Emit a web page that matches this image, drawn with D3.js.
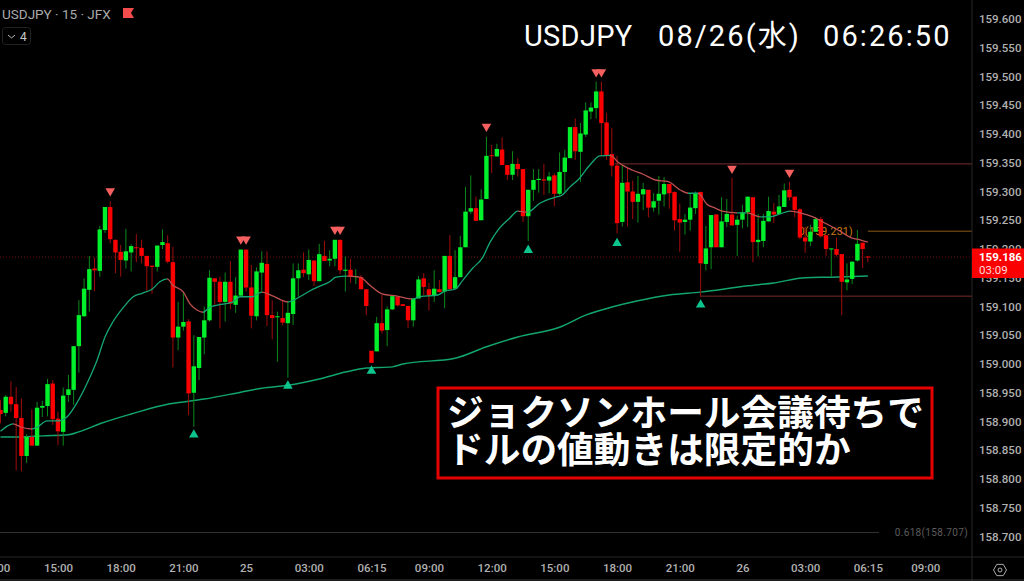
<!DOCTYPE html>
<html>
<head>
<meta charset="utf-8">
<script src="https://cdnjs.cloudflare.com/ajax/libs/d3/7.8.5/d3.min.js"></script>
<style>
  html, body { margin: 0; padding: 0; background: #000; overflow: hidden; }
  svg { display: block; }
  text { font-family: Roboto, sans-serif; }
  .axis path, .axis line { display: none; }
  .axis text { fill: #b0b0b0; font-size: 11.5px; font-weight: 500; font-family: Roboto, sans-serif; }
</style>
</head>
<body>
<div id="chart"></div>
<script>
// 15 minute bars, oldest first
const opens = [
  158.920,158.915,158.943,158.930,158.906,158.840,158.873,158.858,158.924,158.927,
  158.966,158.905,158.882,158.946,158.955,159.031,159.083,159.129,159.166,159.162,
  159.233,159.273,159.216,159.195,159.180,159.194,159.203,159.202,159.188,159.171,
  159.169,159.207,159.210,159.177,159.046,159.065,159.074,158.950,158.993,159.046,
  159.076,159.149,159.143,159.108,159.143,159.103,159.119,159.199,159.133,159.083,
  159.159,159.174,159.085,159.082,159.080,159.071,159.087,159.149,159.164,159.156,
  159.180,159.144,159.188,159.180,159.183,159.216,159.162,159.164,159.151,159.151,
  159.130,159.023,159.022,159.071,159.059,159.095,159.117,159.104,159.101,159.076,
  159.114,159.149,159.130,159.119,159.130,159.126,159.188,159.131,159.151,159.203,
  159.265,159.271,159.250,159.287,159.363,159.361,159.373,159.346,159.329,159.348,
  159.339,159.257,159.303,159.320,159.321,159.319,159.328,159.296,159.334,159.358,
  159.412,159.369,159.399,159.439,159.445,159.474,159.420,159.365,159.345,159.247,
  159.316,159.300,159.282,159.295,159.303,159.272,159.284,159.295,159.313,159.299,
  159.252,159.247,159.251,159.271,159.299,159.174,159.203,159.260,159.203,159.247,
  159.260,159.242,159.251,159.264,159.290,159.212,159.214,159.248,159.265,159.261,
  159.273,159.303,159.291,159.269,159.220,159.213,159.230,159.252,159.224,159.200,
  159.200,159.191,159.142,159.148,159.180,159.211,159.187
];
const closes = [
  158.913,158.943,158.930,158.906,158.840,158.873,158.858,158.924,158.927,158.965,
  158.904,158.883,158.945,158.956,159.031,159.085,159.131,159.165,159.163,159.234,
  159.273,159.217,159.194,159.181,159.196,159.205,159.202,159.188,159.170,159.169,
  159.206,159.212,159.178,159.046,159.065,159.073,158.949,158.996,159.047,159.076,
  159.150,159.143,159.108,159.143,159.105,159.119,159.199,159.133,159.084,159.161,
  159.176,159.085,159.080,159.083,159.072,159.089,159.149,159.163,159.158,159.181,
  159.144,159.191,159.179,159.183,159.216,159.163,159.164,159.152,159.153,159.130,
  159.101,159.002,159.071,159.058,159.095,159.118,159.102,159.101,159.076,159.114,
  159.147,159.134,159.119,159.131,159.125,159.188,159.130,159.151,159.203,159.265,
  159.271,159.249,159.286,159.362,159.362,159.374,159.346,159.329,159.348,159.339,
  159.257,159.303,159.320,159.322,159.319,159.326,159.296,159.334,159.359,159.412,
  159.370,159.401,159.441,159.446,159.474,159.419,159.363,159.345,159.245,159.315,
  159.300,159.282,159.296,159.304,159.272,159.283,159.296,159.313,159.297,159.250,
  159.246,159.251,159.272,159.297,159.175,159.201,159.259,159.203,159.248,159.261,
  159.241,159.251,159.264,159.291,159.212,159.216,159.249,159.266,159.260,159.274,
  159.302,159.290,159.268,159.220,159.213,159.230,159.252,159.222,159.200,159.201,
  159.190,159.143,159.147,159.178,159.209,159.200,159.186
];
const highs = [
  158.937,158.946,158.970,158.960,158.940,158.878,158.921,158.934,158.936,158.974,
  158.972,158.917,158.959,158.981,159.031,159.111,159.149,159.188,159.185,159.240,
  159.273,159.283,159.216,159.207,159.235,159.208,159.226,159.216,159.188,159.171,
  159.206,159.234,159.224,159.204,159.108,159.126,159.078,159.050,159.047,159.100,
  159.163,159.149,159.152,159.159,159.179,159.151,159.199,159.199,159.172,159.168,
  159.196,159.196,159.111,159.091,159.110,159.110,159.175,159.175,159.194,159.199,
  159.180,159.209,159.214,159.198,159.216,159.216,159.187,159.183,159.165,159.155,
  159.130,159.023,159.082,159.120,159.100,159.118,159.117,159.104,159.101,159.114,
  159.153,159.158,159.141,159.163,159.146,159.188,159.224,159.198,159.223,159.308,
  159.328,159.291,159.304,159.395,159.381,159.383,159.394,159.346,159.370,159.358,
  159.339,159.303,159.339,159.339,159.348,159.334,159.332,159.368,159.373,159.412,
  159.427,159.419,159.455,159.455,159.491,159.491,159.437,159.410,159.362,159.346,
  159.341,159.319,159.327,159.315,159.303,159.297,159.327,159.325,159.313,159.300,
  159.279,159.261,159.297,159.300,159.300,159.240,159.259,159.261,159.290,159.287,
  159.324,159.258,159.277,159.291,159.290,159.261,159.261,159.291,159.280,159.294,
  159.314,159.317,159.291,159.271,159.239,159.242,159.255,159.256,159.224,159.201,
  159.220,159.191,159.175,159.178,159.233,159.211,159.187
];
const lows = [
  158.897,158.909,158.917,158.815,158.813,158.828,158.858,158.858,158.908,158.909,
  158.894,158.859,158.858,158.934,158.929,158.985,159.082,159.091,159.127,159.152,
  159.228,159.210,159.158,159.152,159.166,159.161,159.177,159.175,159.126,159.122,
  159.161,159.200,159.175,158.994,159.024,159.058,158.911,158.891,158.972,159.017,
  159.074,159.103,159.062,159.074,159.095,159.089,159.117,159.126,159.062,159.076,
  159.126,159.066,159.043,159.004,159.067,158.976,159.068,159.117,159.151,159.146,
  159.136,159.144,159.179,159.170,159.170,159.156,159.126,159.141,159.139,159.130,
  159.085,159.002,159.022,159.053,159.031,159.094,159.100,159.101,159.062,159.065,
  159.114,159.120,159.093,159.108,159.125,159.097,159.129,159.131,159.151,159.203,
  159.261,159.249,159.250,159.287,159.332,159.361,159.346,159.320,159.320,159.326,
  159.247,159.214,159.284,159.298,159.294,159.297,159.274,159.294,159.300,159.358,
  159.355,159.317,159.395,159.426,159.427,159.363,159.355,159.326,159.227,159.239,
  159.239,159.252,159.246,159.268,159.255,159.265,159.260,159.274,159.270,159.232,
  159.195,159.225,159.232,159.261,159.117,159.163,159.165,159.203,159.203,159.238,
  159.241,159.188,159.236,159.238,159.177,159.187,159.203,159.248,159.245,159.261,
  159.273,159.284,159.255,159.217,159.193,159.205,159.230,159.220,159.188,159.152,
  159.187,159.085,159.128,159.139,159.178,159.167,159.177
];

// moving averages: bar number, price
const fastEma = [
  [0,158.883],[1.3,158.892],[2.4,158.896],[4,158.890],[6,158.887],[7,158.890],[8.9,158.901],[10.8,158.901],
  [12.7,158.908],[14.6,158.932],[16.6,158.967],[18.5,159.007],[20,159.047],[21.5,159.073],[23.4,159.097],[25.4,159.117],
  [27.1,159.123],[29,159.130],[30.5,159.143],[31.9,159.148],[33,159.137],[35,159.125],[36.3,159.104],[37.6,159.094],
  [38.8,159.090],[40.1,159.099],[42.6,159.104],[44.5,159.108],[45.8,159.117],[48.1,159.117],[50,159.125],[52.2,159.118],
  [55,159.108],[57.3,159.117],[59.2,159.127],[60.8,159.134],[63,159.143],[64.2,159.151],[66.3,159.153],[68.8,159.151],
  [70.7,159.137],[73,159.122],[75.9,159.118],[78.8,159.113],[80.3,159.117],[83.7,159.120],[85.1,159.127],[87,159.130],
  [88.5,159.146],[90.4,159.167],[92.2,159.184],[93.7,159.212],[95.2,159.233],[97.5,159.254],[99,159.266],[100.8,159.264],
  [103.3,159.280],[105.8,159.289],[107.5,159.294],[109,159.308],[110.5,159.320],[112.8,159.346],[114.7,159.362],[116.7,159.363],
  [118.2,159.351],[121,159.337],[123,159.330],[125.3,159.320],[127.8,159.317],[130,159.303],[131.6,159.297],[133.5,159.297],
  [135.2,159.278],[136.8,159.271],[138.1,159.266],[141,159.263],[142.9,159.263],[145.4,159.256],[147.3,159.256],[149.2,159.261],
  [151.1,159.266],[152.5,159.264],[153,159.263],[155.5,159.256],[157.4,159.247],[160.3,159.233],[163,159.219],[164.5,159.216],
  [166,159.212]
];
const slowEma = [
  [0,158.873],[4,158.873],[8,158.875],[13,158.877],[15,158.882],[19,158.896],[25,158.913],[32,158.930],
  [35,158.934],[39,158.939],[46,158.951],[50,158.958],[55,158.963],[61,158.974],[66,158.986],[70,158.993],
  [75,158.995],[77,159.000],[87,159.010],[93,159.030],[99,159.047],[107,159.064],[112,159.085],[117,159.099],
  [122,159.110],[128,159.120],[134,159.125],[143,159.136],[148,159.141],[154,159.150],[159,159.151],[166,159.153]
];

// swing markers: bar number, price the marker sits at
const sellMarks = [[21,159.301],[46,159.217],[47,159.217],[64,159.234],[65,159.234],[93,159.413],[114,159.508],[115,159.508],[140,159.340],[151,159.333]];
const buyMarks = [[37,158.877],[55,158.962],[71,158.988],[101,159.198],[118,159.210],[134,159.103]];

const priceTicks = [159.6,159.55,159.5,159.45,159.4,159.35,159.3,159.25,159.2,159.15,159.1,159.05,159,158.95,158.9,158.85,158.8,158.75,158.7];
const timeTicks = [-1,11,23,35,47,59,71,82,94,106,118,130,142,154,166,177];
const timeLabels = ["12:00","15:00","18:00","21:00","25","03:00","06:15","09:00","12:00","15:00","18:00","21:00","26","03:00","06:15","09:00"];

const lastPrice = 159.186;
const countdown = "03:09";
const resistance = 159.348;
const support = 159.118;
const fibZero = 159.231;
const fibLevel = 158.707;
const titleParts = ["USDJPY", "08/26(水)", "06:26:50"];
const headline = ["ジョクソンホール会議待ちで", "ドルの値動きは限定的か"];

const W = 1024, H = 581, plotRight = 972, plotBottom = 557;
const green = "#00f02c", red = "#fb0000";
const emaUp = "#14a673", emaDown = "#bd4f4f";

const bars = opens.map((o, i) => ({ i: i, o: o, h: highs[i], l: lows[i], c: closes[i] }));

const x = d3.scaleLinear().domain([0, 166]).range([0.5, 867.85]);
const y = d3.scaleLinear().domain([158.7, 159.6]).range([536.5, 19]);

const svg = d3.select("#chart").append("svg").attr("width", W).attr("height", H);
const defs = svg.append("defs");

defs.append("clipPath").attr("id", "plot")
  .append("rect").attr("width", plotRight).attr("height", plotBottom);

// the fast average changes colour with its direction, hard stops at each knot
const fastGrad = defs.append("linearGradient").attr("id", "fastGrad")
  .attr("gradientUnits", "userSpaceOnUse")
  .attr("x1", x(0)).attr("x2", x(166)).attr("y1", 0).attr("y2", 0);
d3.pairs(fastEma).forEach(p => {
  const colour = p[1][1] >= p[0][1] ? emaUp : emaDown;
  const a = (p[0][0]) / 166, b = (p[1][0]) / 166;
  fastGrad.append("stop").attr("offset", a).attr("stop-color", colour);
  fastGrad.append("stop").attr("offset", b).attr("stop-color", colour);
});

const plot = svg.append("g").attr("clip-path", "url(#plot)");

// level lines
plot.append("line").attr("x1", 0).attr("x2", plotRight)
  .attr("y1", y(lastPrice)).attr("y2", y(lastPrice))
  .attr("stroke", "#6e1212").attr("stroke-dasharray", "1 2");
plot.append("line").attr("x1", x(117.5)).attr("x2", plotRight)
  .attr("y1", y(resistance)).attr("y2", y(resistance)).attr("stroke", "#7c2c2c");
plot.append("line").attr("x1", x(134)).attr("x2", plotRight)
  .attr("y1", y(support)).attr("y2", y(support)).attr("stroke", "#7c2c2c");
plot.append("line").attr("x1", x(166)).attr("x2", plotRight)
  .attr("y1", y(fibZero)).attr("y2", y(fibZero)).attr("stroke", "#8a5a16");
plot.append("line").attr("x1", 0).attr("x2", 879)
  .attr("y1", y(fibLevel)).attr("y2", y(fibLevel)).attr("stroke", "#333");

plot.append("text").attr("x", 853).attr("y", y(fibZero) + 3.5)
  .attr("text-anchor", "end").attr("fill", "#d07c12").attr("font-size", 10.5)
  .attr("letter-spacing", 0.3).text("0(" + fibZero.toFixed(3) + ")");
svg.append("text").attr("x", 968).attr("y", y(fibLevel) + 3.5)
  .attr("text-anchor", "end").attr("fill", "#5c5c5c").attr("font-size", 10)
  .attr("letter-spacing", 0.35).text("0.618(" + fibLevel.toFixed(3) + ")");

// moving averages
const line = d3.line().x(d => x(d[0])).y(d => y(d[1])).curve(d3.curveMonotoneX);

plot.append("path").attr("d", line(slowEma))
  .attr("fill", "none").attr("stroke", "#12a56d").attr("stroke-width", 1.5);

// candles
const candle = plot.selectAll(".bar").data(bars).join("g").attr("class", "bar");
candle.append("line")
  .attr("x1", d => x(d.i)).attr("x2", d => x(d.i))
  .attr("y1", d => y(d.h)).attr("y2", d => y(d.l))
  .attr("stroke", d => d.c >= d.o ? "#0a8a1c" : "#a00c0c").attr("stroke-width", 1);
candle.append("rect")
  .attr("x", d => x(d.i) - 2.2).attr("width", 4.4)
  .attr("y", d => y(Math.max(d.o, d.c)))
  .attr("height", d => Math.max(1, Math.abs(y(d.o) - y(d.c))))
  .attr("fill", d => d.c >= d.o ? green : red);

plot.append("path").attr("d", line(fastEma))
  .attr("fill", "none").attr("stroke", "url(#fastGrad)").attr("stroke-width", 1.3);

// markers
const tri = d3.symbol().type(d3.symbolTriangle).size(40);
plot.selectAll(".sell").data(sellMarks).join("path").attr("class", "sell")
  .attr("d", tri)
  .attr("transform", d => "translate(" + x(d[0]) + "," + y(d[1]) + ") rotate(180)")
  .attr("fill", "#f55f5f");
plot.selectAll(".buy").data(buyMarks).join("path").attr("class", "buy")
  .attr("d", tri)
  .attr("transform", d => "translate(" + x(d[0]) + "," + y(d[1]) + ")")
  .attr("fill", "#0cc48c");

// axes
svg.append("g").attr("class", "axis").attr("transform", "translate(" + plotRight + ",0)")
  .call(d3.axisRight(y).tickValues(priceTicks).tickSize(0).tickPadding(7).tickFormat(d3.format(".3f")));

svg.append("g").attr("class", "axis").attr("transform", "translate(0," + plotBottom + ")")
  .call(d3.axisBottom(x).tickValues(timeTicks).tickSize(0).tickPadding(7)
    .tickFormat(d => timeLabels[timeTicks.indexOf(d)]));

svg.append("line").attr("x1", plotRight).attr("x2", plotRight).attr("y1", 0).attr("y2", H).attr("stroke", "#262626");
svg.append("line").attr("x1", 0).attr("x2", W).attr("y1", plotBottom).attr("y2", plotBottom).attr("stroke", "#262626");
svg.append("line").attr("x1", 0).attr("x2", W).attr("y1", 580).attr("y2", 580).attr("stroke", "#3a3a3a");

// price tag
svg.append("rect").attr("x", plotRight).attr("y", 248.5).attr("width", W - plotRight).attr("height", 29.5).attr("fill", "#fb0000");
svg.append("text").attr("x", 979).attr("y", 261).attr("fill", "#fff").attr("font-size", 11.5).attr("font-weight", 700).text(lastPrice.toFixed(3));
svg.append("text").attr("x", 979).attr("y", 274).attr("fill", "#ffd9d9").attr("font-size", 11.5).text(countdown);

// settings icon
svg.append("path").attr("d", d3.line()(d3.range(6).map(k => [
    1000 + 6.5 * Math.cos(k * Math.PI / 3), 570 + 6.5 * Math.sin(k * Math.PI / 3)
  ])) + "Z")
  .attr("fill", "none").attr("stroke", "#a9a9a9");
svg.append("circle").attr("cx", 1000).attr("cy", 570).attr("r", 2).attr("fill", "none").attr("stroke", "#a9a9a9");

// header
svg.append("text").attr("x", 2).attr("y", 18.5).attr("fill", "#a9a9a9").attr("font-size", 13.5).text("USDJPY · 15 · JFX");
svg.append("path").attr("d", "M123 8H134L131 13L134 18H123Z").attr("fill", "#f44c4c");
svg.append("rect").attr("x", 2.5).attr("y", 27.5).attr("width", 28).attr("height", 17).attr("rx", 3)
  .attr("fill", "none").attr("stroke", "#222");
svg.append("path").attr("d", "M8 35L11.5 38L15 35").attr("fill", "none").attr("stroke", "#bbb");
svg.append("text").attr("x", 20).attr("y", 41).attr("fill", "#c8c8c8").attr("font-size", 12).text("4");

// title and headline box
const titleX = [524, 658, 823], titleSpacing = [0.3, 2.1, 2.1];
svg.selectAll(".title").data(titleParts).join("text").attr("class", "title")
  .attr("x", (d, i) => titleX[i]).attr("y", 46).attr("fill", "#fff")
  .attr("font-size", 29).attr("letter-spacing", (d, i) => titleSpacing[i])
  .style("font-family", "Roboto, 'Noto Sans CJK JP', sans-serif").text(d => d);

svg.append("rect").attr("x", 438).attr("y", 388).attr("width", 494).attr("height", 90)
  .attr("fill", "#000").attr("stroke", "#e60000").attr("stroke-width", 3);
svg.selectAll(".headline").data(headline).join("text").attr("class", "headline")
  .attr("x", 447).attr("y", (d, i) => 426 + i * 37)
  .attr("fill", "#fff").attr("font-size", 36.7).attr("font-weight", 700)
  .style("font-family", "'Noto Sans CJK JP', sans-serif").text(d => d);
</script>
</body>
</html>
